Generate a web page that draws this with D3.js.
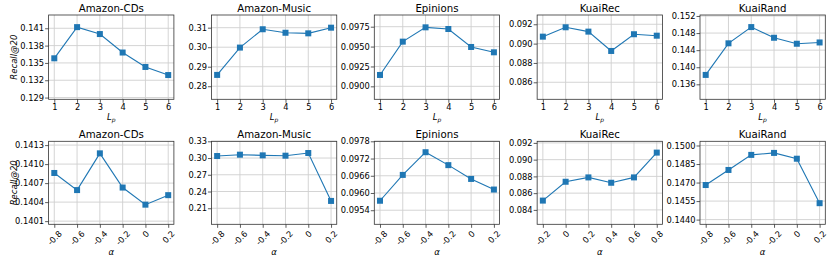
<!DOCTYPE html>
<html>
<head>
<meta charset="utf-8">
<script src="https://cdn.jsdelivr.net/npm/d3@7"></script>
<style>
  body { margin: 0; background: #fff; }
  text { font-family: "DejaVu Sans", sans-serif; fill: #000; }
</style>
</head>
<body>
<svg id="chart" width="831" height="261"></svg>
<script>
// noms des jeux de données
const datasets = ["Amazon-CDs", "Amazon-Music", "Epinions", "KuaiRec", "KuaiRand"];

// axe x
const lpTicks = ["1", "2", "3", "4", "5", "6"];
const alphaTicks = ["-0.8", "-0.6", "-0.4", "-0.2", "0", "0.2"];
const alphaTicksKuaiRec = ["-0.2", "0", "0.2", "0.4", "0.6", "0.8"];

// ligne du haut : Recall@20 selon L_p
const lpCDs = [0.1358, 0.1412, 0.1400, 0.1368, 0.1343, 0.1329];
const lpMusic = [0.2858, 0.2998, 0.3092, 0.3074, 0.3071, 0.3100];
const lpEpinions = [0.09143, 0.09562, 0.09742, 0.09721, 0.09495, 0.09428];
const lpKuaiRec = [0.09072, 0.09169, 0.09124, 0.08924, 0.09097, 0.09082];
const lpKuaiRand = [0.1382, 0.1456, 0.1494, 0.1469, 0.1455, 0.1458];

// ligne du bas : Recall@20 selon alpha
const alphaCDs = [0.14086, 0.14059, 0.14117, 0.14063, 0.14036, 0.14051];
const alphaMusic = [0.3036, 0.3060, 0.3048, 0.3042, 0.3090, 0.2231];
const alphaEpinions = [0.09573, 0.09663, 0.09742, 0.09697, 0.09649, 0.09612];
const alphaKuaiRec = [0.08511, 0.08736, 0.08788, 0.08724, 0.08788, 0.09084];
const alphaKuaiRand = [0.1468, 0.14802, 0.14924, 0.1494, 0.14893, 0.14533];

// graduations y
const lpYTicks = [
  [0.129, 0.132, 0.135, 0.138, 0.141],
  [0.28, 0.29, 0.30, 0.31],
  [0.0900, 0.0925, 0.0950, 0.0975],
  [0.086, 0.088, 0.090, 0.092],
  [0.136, 0.140, 0.144, 0.148, 0.152]
];
const alphaYTicks = [
  [0.1401, 0.1404, 0.1407, 0.1410, 0.1413],
  [0.21, 0.24, 0.27, 0.30, 0.33],
  [0.0954, 0.0960, 0.0966, 0.0972, 0.0978],
  [0.084, 0.086, 0.088, 0.090, 0.092],
  [0.1440, 0.1455, 0.1470, 0.1485, 0.1500]
];
const lpYFormat = [".3f", ".2f", ".4f", ".3f", ".3f"];
const alphaYFormat = [".4f", ".2f", ".4f", ".3f", ".4f"];

// limites des axes y
const lpYDomain = [[0.1287, 0.1433], [0.2733, 0.3165], [0.08837, 0.09897], [0.08424, 0.09296], [0.13249, 0.15223]];
const alphaYDomain = [[0.14005, 0.14136], [0.1812, 0.33], [0.09491, 0.0978], [0.08228, 0.09219], [0.14362, 0.15034]];

const lpSeries = [lpCDs, lpMusic, lpEpinions, lpKuaiRec, lpKuaiRand];
const alphaSeries = [alphaCDs, alphaMusic, alphaEpinions, alphaKuaiRec, alphaKuaiRand];

const svg = d3.select("#chart");
const color = "#1f77b4";
const panelW = 125.3;
const step = 162.85;
const firstLeft = 48.6;

function drawPanel(col, top, bottom, values, xTicks, yTicks, yFmt, yDomain, title, xLabel, rotate) {
  const left = firstLeft + col * step;
  const g = svg.append("g");

  const x = d3.scaleLinear().domain([-0.25, xTicks.length - 0.75]).range([left, left + panelW]);
  const y = d3.scaleLinear().domain(yDomain).range([bottom, top]);

  // grille
  g.selectAll(".vgrid").data(xTicks).join("line")
    .attr("x1", (d, i) => x(i)).attr("x2", (d, i) => x(i))
    .attr("y1", top).attr("y2", bottom)
    .attr("stroke", "#cfcfcf").attr("stroke-width", 0.9);
  g.selectAll(".hgrid").data(yTicks).join("line")
    .attr("x1", left).attr("x2", left + panelW)
    .attr("y1", d => y(d)).attr("y2", d => y(d))
    .attr("stroke", "#cfcfcf").attr("stroke-width", 0.9);

  // axe y
  const yAxis = g.append("g")
    .attr("transform", "translate(" + left + ",0)")
    .call(d3.axisLeft(y).tickValues(yTicks).tickFormat(d3.format(yFmt)).tickSize(3.5).tickPadding(1));
  yAxis.select(".domain").remove();
  yAxis.selectAll("text").attr("font-size", 8.3).attr("font-family", "DejaVu Sans").attr("fill", "#000");
  yAxis.selectAll("line").attr("stroke", "#333").attr("stroke-width", 0.8);

  // axe x
  const xAxis = g.append("g")
    .attr("transform", "translate(0," + bottom + ")")
    .call(d3.axisBottom(x).tickValues(d3.range(xTicks.length)).tickFormat(i => xTicks[i]).tickSize(3.5).tickPadding(1.2));
  xAxis.select(".domain").remove();
  xAxis.selectAll("line").attr("stroke", "#333").attr("stroke-width", 0.8);
  xAxis.selectAll("text").attr("font-size", 8.3).attr("font-family", "DejaVu Sans").attr("fill", "#000");

  if (rotate) {
    xAxis.selectAll("text").each(function() {
      const t = d3.select(this);
      const w = this.getComputedTextLength();
      const h = 7.6;
      const half = (w + h) / Math.SQRT2 / 2;
      t.attr("y", null).attr("dy", "0.32em")
        .attr("text-anchor", "middle")
        .attr("transform", "translate(0," + (3.5 + 2 + half) + ") rotate(-45)");
    });
  }

  // cadre
  g.append("rect")
    .attr("x", left).attr("y", top)
    .attr("width", panelW).attr("height", bottom - top)
    .attr("fill", "none").attr("stroke", "#333").attr("stroke-width", 0.8);

  // courbe
  const line = d3.line().x((d, i) => x(i)).y(d => y(d));
  g.append("path")
    .datum(values)
    .attr("d", line)
    .attr("fill", "none")
    .attr("stroke", color)
    .attr("stroke-width", 1.1);

  const ms = 6;
  g.selectAll(".pt").data(values).join("rect")
    .attr("x", (d, i) => x(i) - ms / 2)
    .attr("y", d => y(d) - ms / 2)
    .attr("width", ms).attr("height", ms)
    .attr("fill", color);

  // titre
  g.append("text")
    .attr("x", left + panelW / 2).attr("y", top - 3.5)
    .attr("text-anchor", "middle")
    .attr("font-size", 10.2)
    .text(title);

  // label x
  const lbl = g.append("text")
    .attr("x", left + panelW / 2)
    .attr("y", rotate ? bottom + 30.5 : bottom + 20.5)
    .attr("text-anchor", "middle")
    .attr("font-size", 8.5)
    .attr("font-style", "italic");
  if (xLabel === "Lp") {
    lbl.append("tspan").text("L");
    lbl.append("tspan").attr("font-size", 6).attr("dy", 1.8).text("p");
  } else {
    lbl.text(xLabel);
  }

  // label y (première colonne)
  if (col === 0) {
    svg.append("text")
      .attr("transform", "translate(" + 16.5 + "," + ((top + bottom) / 2) + ") rotate(-90)")
      .attr("text-anchor", "middle")
      .attr("font-size", 8.5)
      .attr("font-style", "italic")
      .text("Recall@20");
  }
}

datasets.forEach(function(name, i) {
  drawPanel(i, 15, 99.3, lpSeries[i], lpTicks, lpYTicks[i], lpYFormat[i], lpYDomain[i], name, "Lp", false);
  drawPanel(i, 141.3, 224.3, alphaSeries[i], i === 3 ? alphaTicksKuaiRec : alphaTicks,
    alphaYTicks[i], alphaYFormat[i], alphaYDomain[i], name, "α", true);
});
</script>
</body>
</html>
